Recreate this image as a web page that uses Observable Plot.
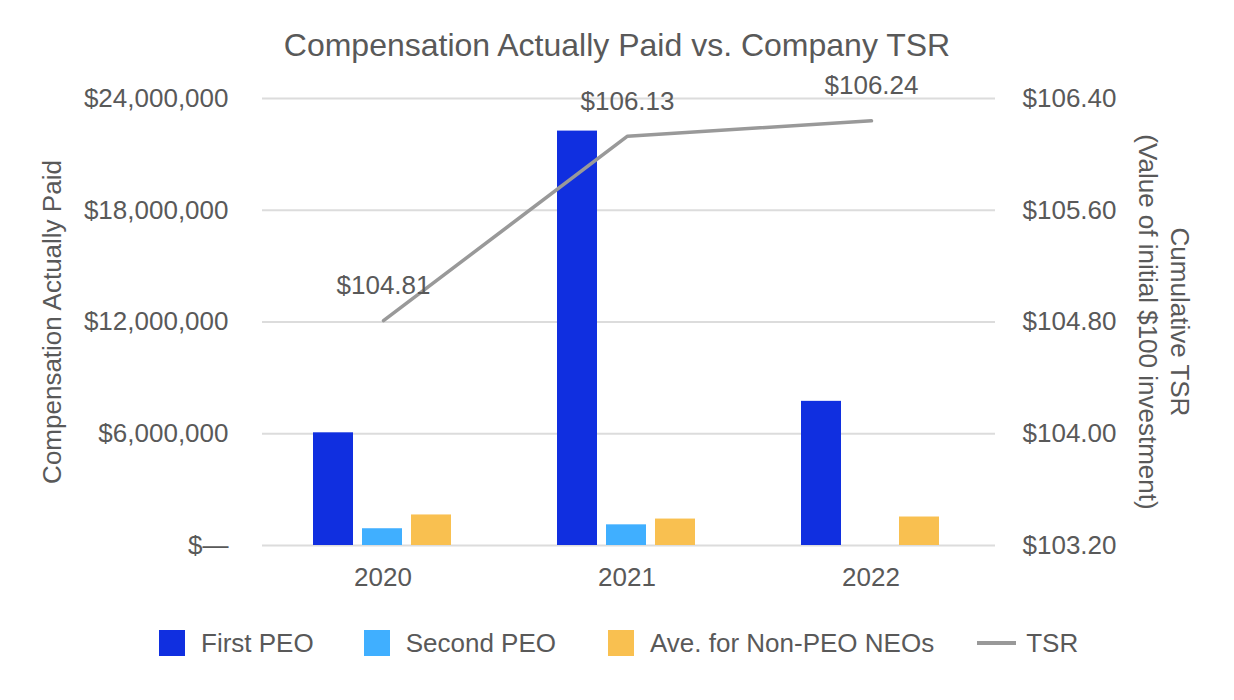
<!DOCTYPE html>
<html>
<head>
<meta charset="utf-8">
<script src="https://cdn.jsdelivr.net/npm/d3@7"></script>
<script src="https://cdn.jsdelivr.net/npm/@observablehq/plot@0.6"></script>
<style>
  html, body { margin: 0; padding: 0; background: #fff; }
  body { font-family: "Liberation Sans", Arial, sans-serif; color: #595959; }
  #wrap { position: relative; width: 1234px; height: 700px; overflow: hidden; }
  #title { position: absolute; left: 0; width: 1234px; top: 26px; text-align: center; font-size: 32px; line-height: 38px; white-space: nowrap; }
  .layer { position: absolute; left: 0; top: 80px; }
  .ylab { position: absolute; font-size: 26px; line-height: 32px; white-space: nowrap; text-align: center; }
  #legend { position: absolute; left: 159px; top: 627px; height: 32px; display: flex; align-items: center; font-size: 26px; white-space: nowrap; }
  .sw { width: 26px; height: 26px; display: inline-block; margin-right: 16px; }
  .ln { width: 39px; height: 4px; background: #999; display: inline-block; margin-right: 10px; }
  .item { display: flex; align-items: center; }
</style>
</head>
<body>
<div id="wrap">
  <div id="title">Compensation Actually Paid vs. Company TSR</div>
  <div id="l1" class="layer"></div>
  <div id="l2" class="layer"></div>
  <div id="l3" class="layer"></div>
  <div class="ylab" id="ylabL" style="left:52px; top:322px; transform: translate(-50%,-50%) rotate(-90deg);">Compensation Actually Paid</div>
  <div class="ylab" id="ylabR" style="left:1164px; top:322px; transform: translate(-50%,-50%) rotate(90deg);">Cumulative TSR<br>(Value of initial $100 investment)</div>
  <div id="legend"></div>
</div>
<script>
// ---- data ----
const years = ["2020", "2021", "2022"];
const series = ["First PEO", "Second PEO", "Ave. for Non-PEO NEOs"];
const firstPEO = [6050000, 22250000, 7740000];
const secondPEO = [900000, 1110000, 0];
const nonPEO = [1640000, 1420000, 1530000];
const tsr = [104.81, 106.13, 106.24];
const capTicks = [0, 6000000, 12000000, 18000000, 24000000];
const tsrTicks = [103.2, 104.0, 104.8, 105.6, 106.4];
const colors = ["#102fe0", "#40afff", "#f9c050"];
const lineColor = "#999999";
const textColor = "#595959";

const bars = [];
years.forEach((y, i) => {
  bars.push({year: y, series: series[0], value: firstPEO[i]});
  bars.push({year: y, series: series[1], value: secondPEO[i]});
  bars.push({year: y, series: series[2], value: nonPEO[i]});
});
const tsrData = years.map((y, i) => ({year: y, value: tsr[i]}));

const W = 1234, H = 515, MT = 18, MB = 50;
const ML = 260, MR = 240;
const font = '"Liberation Sans", Arial, sans-serif';
const baseStyle = {background: "transparent", fontSize: "26px", fontFamily: font, color: textColor, overflow: "visible"};
const capFmt = d => d === 0 ? "$\u2014" : "$" + d3.format(",")(d);
const tsrFmt = d => "$" + d.toFixed(2);

// Layer 1: grid + left axis
const p1 = Plot.plot({
  width: W, height: H, marginTop: MT, marginBottom: MB, marginLeft: 262, marginRight: 239,
  style: baseStyle,
  x: {type: "point", domain: years, padding: 0.5, axis: null},
  y: {domain: [0, 24000000], axis: null},
  marks: [
    Plot.gridY(capTicks, {stroke: "#dcdcdc", strokeOpacity: 1, strokeWidth: 2}),
    Plot.axisY(capTicks, {tickSize: 0, tickPadding: 34, tickFormat: capFmt, fontSize: 26, fill: textColor})
  ]
});
document.getElementById("l1").appendChild(p1);

// Layer 2: grouped bars
const p2 = Plot.plot({
  width: W, height: H, marginTop: MT, marginBottom: MB, marginLeft: ML, marginRight: MR,
  style: baseStyle,
  fx: {domain: years, paddingInner: 0.3975, paddingOuter: 0.199, label: null},
  x: {domain: series, paddingInner: 0.18, paddingOuter: 0.09, axis: null},
  y: {domain: [0, 24000000], axis: null},
  color: {domain: series, range: colors},
  marks: [
    Plot.barY(bars, {fx: "year", x: "series", y: "value", fill: "series"}),
    Plot.axisFx({anchor: "bottom", tickSize: 0, tickPadding: 22, fontSize: 26, fill: textColor, label: null})
  ]
});
document.getElementById("l2").appendChild(p2);

// Layer 3: TSR line, right axis, labels
const p3 = Plot.plot({
  width: W, height: H, marginTop: MT, marginBottom: MB, marginLeft: ML, marginRight: MR,
  style: baseStyle,
  x: {type: "point", domain: years, padding: 0.5, axis: null},
  y: {domain: [103.2, 106.4], axis: null},
  marks: [
    Plot.lineY(tsrData, {x: "year", y: "value", stroke: lineColor, strokeWidth: 3.5}),
    Plot.text(tsrData, {x: "year", y: "value", text: d => tsrFmt(d.value), dy: -35, fontSize: 26, fill: textColor}),
    Plot.axisY(tsrTicks, {anchor: "right", tickSize: 0, tickPadding: 28, tickFormat: tsrFmt, fontSize: 26, fill: textColor, label: null})
  ]
});
document.getElementById("l3").appendChild(p3);

// Legend
const legend = document.getElementById("legend");
const gaps = [0, 50, 52, 43];
series.forEach((s, i) => {
  const it = document.createElement("div");
  it.className = "item";
  it.style.marginLeft = gaps[i] + "px";
  it.innerHTML = `<span class="sw" style="background:${colors[i]}"></span><span>${s}</span>`;
  legend.appendChild(it);
});
const it = document.createElement("div");
it.className = "item";
it.style.marginLeft = gaps[3] + "px";
it.innerHTML = `<span class="ln"></span><span>TSR</span>`;
legend.appendChild(it);
</script>
</body>
</html>
